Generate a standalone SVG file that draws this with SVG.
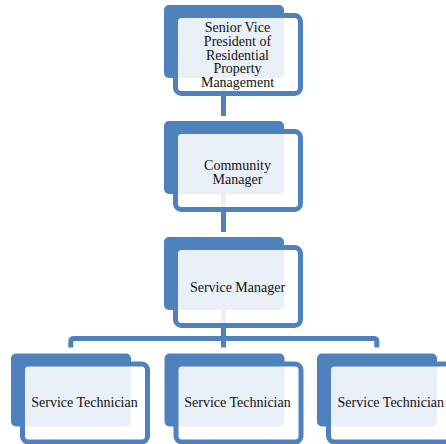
<svg xmlns="http://www.w3.org/2000/svg" width="446" height="444" viewBox="0 0 446 444">
<style>
.back{fill:#4f81bd}
.front{fill:#ffffff;fill-opacity:0.88;stroke:#4f81bd;stroke-width:5}
.conn{fill:none;stroke:#4f81bd;stroke-width:5}
text{font-family:"Liberation Serif","Times New Roman",serif;font-size:14px;fill:#111;text-anchor:middle}
</style>
<rect width="446" height="444" fill="#ffffff"/>
<g id="connectors">
<path class="conn" d="M223.5 70 V116"/>
<path class="conn" d="M223.5 186 V232"/>
<path class="conn" d="M223.5 302 V347.5"/>
<path class="conn" d="M70.8 347.5 V341.5 Q70.8 338.5 73.8 338.5 H373.8 Q376.8 338.5 376.8 341.5 V347.5"/>
</g>
<g id="svp">
<rect class="back" x="164" y="5" width="120" height="73" rx="5"/>
<rect class="front" x="175.5" y="15.5" width="125" height="78" rx="6"/>
<text x="237.5" y="31.7">Senior Vice</text>
<text x="237.5" y="45.6">President of</text>
<text x="237.5" y="59.5">Residential</text>
<text x="237.5" y="73.4">Property</text>
<text x="237.5" y="87.3">Management</text>
</g>
<g id="community-manager">
<rect class="back" x="164" y="121" width="120" height="73" rx="5"/>
<rect class="front" x="175.5" y="131.5" width="125" height="78" rx="6"/>
<text x="237.5" y="169.5">Community</text>
<text x="237.5" y="183.5">Manager</text>
</g>
<g id="service-manager">
<rect class="back" x="164" y="237" width="120" height="73" rx="5"/>
<rect class="front" x="175.5" y="247.5" width="125" height="78" rx="6"/>
<text x="237.5" y="291.7">Service Manager</text>
</g>
<g id="tech1">
<rect class="back" x="11" y="353.5" width="120" height="73" rx="5"/>
<rect class="front" x="22.5" y="364" width="125" height="78" rx="6"/>
<text x="84.5" y="407.3">Service Technician</text>
</g>
<g id="tech2">
<rect class="back" x="164.5" y="353.5" width="120" height="73" rx="5"/>
<rect class="front" x="176" y="364" width="125" height="78" rx="6"/>
<text x="237.5" y="407.3">Service Technician</text>
</g>
<g id="tech3">
<rect class="back" x="317" y="353.5" width="120" height="73" rx="5"/>
<rect class="front" x="328.5" y="364" width="125" height="78" rx="6"/>
<text x="390.8" y="407.3">Service Technician</text>
</g>
</svg>
